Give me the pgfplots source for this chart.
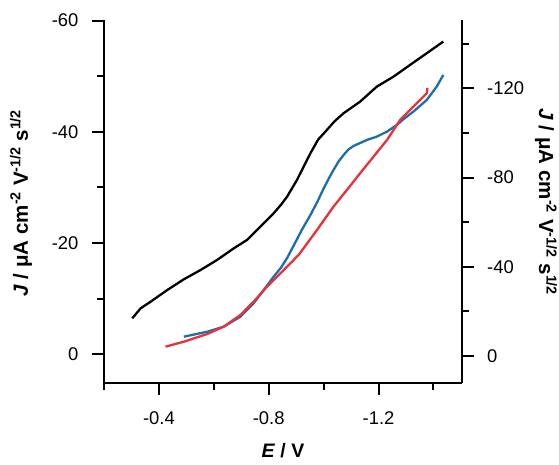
\documentclass[border=0pt]{standalone}
\usepackage{fontspec}
\setmainfont{Liberation Sans}
\usepackage{pgfplots}
\pgfplotsset{compat=1.18}
\definecolor{cblue}{RGB}{30,110,170}
\definecolor{cred}{RGB}{232,50,55}
\newcommand{\tickfont}{\fontsize{18.4}{20}\selectfont}
\newcommand{\labfont}{\fontsize{20.5}{22}\selectfont\bfseries}
\begin{document}
\begin{tikzpicture}
\useasboundingbox (-104pt,-81pt) rectangle (455pt,383pt);
\pgfplotsset{
  common/.style={
    at={(0pt,0pt)}, anchor=south west,
    width=357.7pt, height=363pt, scale only axis,
    x dir=reverse, y dir=reverse,
    xmin=-1.503, xmax=-0.2,
    axis line style={-, line width=2pt},
    tick align=outside, major tick length=12pt, minor tick length=7pt,
    every tick/.style={line width=2pt, black},
    ticklabel style={font=\tickfont},
    clip=false,
  }
}
\begin{axis}[common,
  ymin=-60.1, ymax=5.16,
  axis x line*=bottom, axis y line*=left,
  xtick={-0.4,-0.8,-1.2}, xticklabels={-0.4,-0.8,-1.2},
  minor xtick={-0.2,-0.6,-1.0,-1.4},
  ytick={0,-20,-40,-60}, yticklabels={0,-20,-40,-60},
  minor ytick={-10,-30,-50},
  xticklabel style={yshift=-13pt},
  yticklabel style={xshift=-10pt},
]
\addplot[black, line width=2.3pt] coordinates {
(-0.303,-6.47) (-0.3335,-8.27) (-0.370,-9.46) (-0.4305,-11.56) (-0.491,-13.49)
(-0.552,-15.16) (-0.612,-16.96) (-0.673,-19.06) (-0.721,-20.56) (-0.782,-23.56)
(-0.818,-25.36) (-0.845,-26.9) (-0.867,-28.35) (-0.903,-31.35) (-0.930,-34.0) (-0.952,-36.15)
(-0.980,-38.6) (-1.012,-40.34) (-1.040,-41.9)
(-1.073,-43.35) (-1.133,-45.43) (-1.194,-48.13) (-1.255,-49.93) (-1.315,-52.03)
(-1.376,-54.14) (-1.436,-56.22)
};
\addplot[cblue, line width=2.3pt] coordinates {
(-0.491,-3.17) (-0.576,-4.06) (-0.636,-4.96) (-0.697,-6.76) (-0.745,-9.17)
(-0.782,-11.56) (-0.818,-13.96) (-0.845,-15.6) (-0.867,-17.3) (-0.891,-19.55) (-0.920,-22.3) (-0.952,-25.05)
(-0.978,-27.5) (-1.000,-29.8) (-1.020,-31.7) (-1.036,-33.15) (-1.055,-34.7) (-1.073,-35.85) (-1.090,-36.8) (-1.109,-37.46) (-1.158,-38.54)
(-1.194,-39.14) (-1.231,-40.04) (-1.267,-41.24) (-1.291,-42.27) (-1.327,-43.63)
(-1.376,-45.74) (-1.412,-48.13) (-1.436,-50.23)
};
\addplot[cred, line width=2.3pt] coordinates {
(-0.424,-1.37) (-0.491,-2.27) (-0.576,-3.65) (-0.636,-4.96) (-0.697,-7.07)
(-0.745,-9.46) (-0.794,-12.16) (-0.843,-14.57) (-0.879,-16.37) (-0.909,-17.86)
(-0.927,-19.06) (-0.976,-22.36) (-1.036,-26.55) (-1.085,-29.55) (-1.133,-32.55)
(-1.182,-35.54) (-1.231,-38.54) (-1.279,-42.14) (-1.327,-44.53) (-1.376,-46.94)
(-1.378,-47.9)
};
\end{axis}
\begin{axis}[common,
  ymin=-150.7, ymax=12.1,
  axis x line=none, axis y line*=right,
  ytick={0,-40,-80,-120}, yticklabels={0,-40,-80,-120},
  minor ytick={-20,-60,-100,-140},
  yticklabel style={xshift=10pt},
]
\addplot[draw=none] coordinates {(-1,0)};
\end{axis}
\node[rotate=90, font=\labfont] at (-83pt,180pt)
  {\textit{J} / μA cm\textsuperscript{-2} V\textsuperscript{-1/2} s\textsuperscript{1/2}};
\node[rotate=-90, font=\labfont] at (442pt,181pt)
  {\textit{J} / μA cm\textsuperscript{-2} V\textsuperscript{-1/2} s\textsuperscript{1/2}};
\node[font=\fontsize{19.5}{21}\selectfont\bfseries] at (178.9pt,-68pt) {\textit{E} / V};
\end{tikzpicture}
\end{document}
